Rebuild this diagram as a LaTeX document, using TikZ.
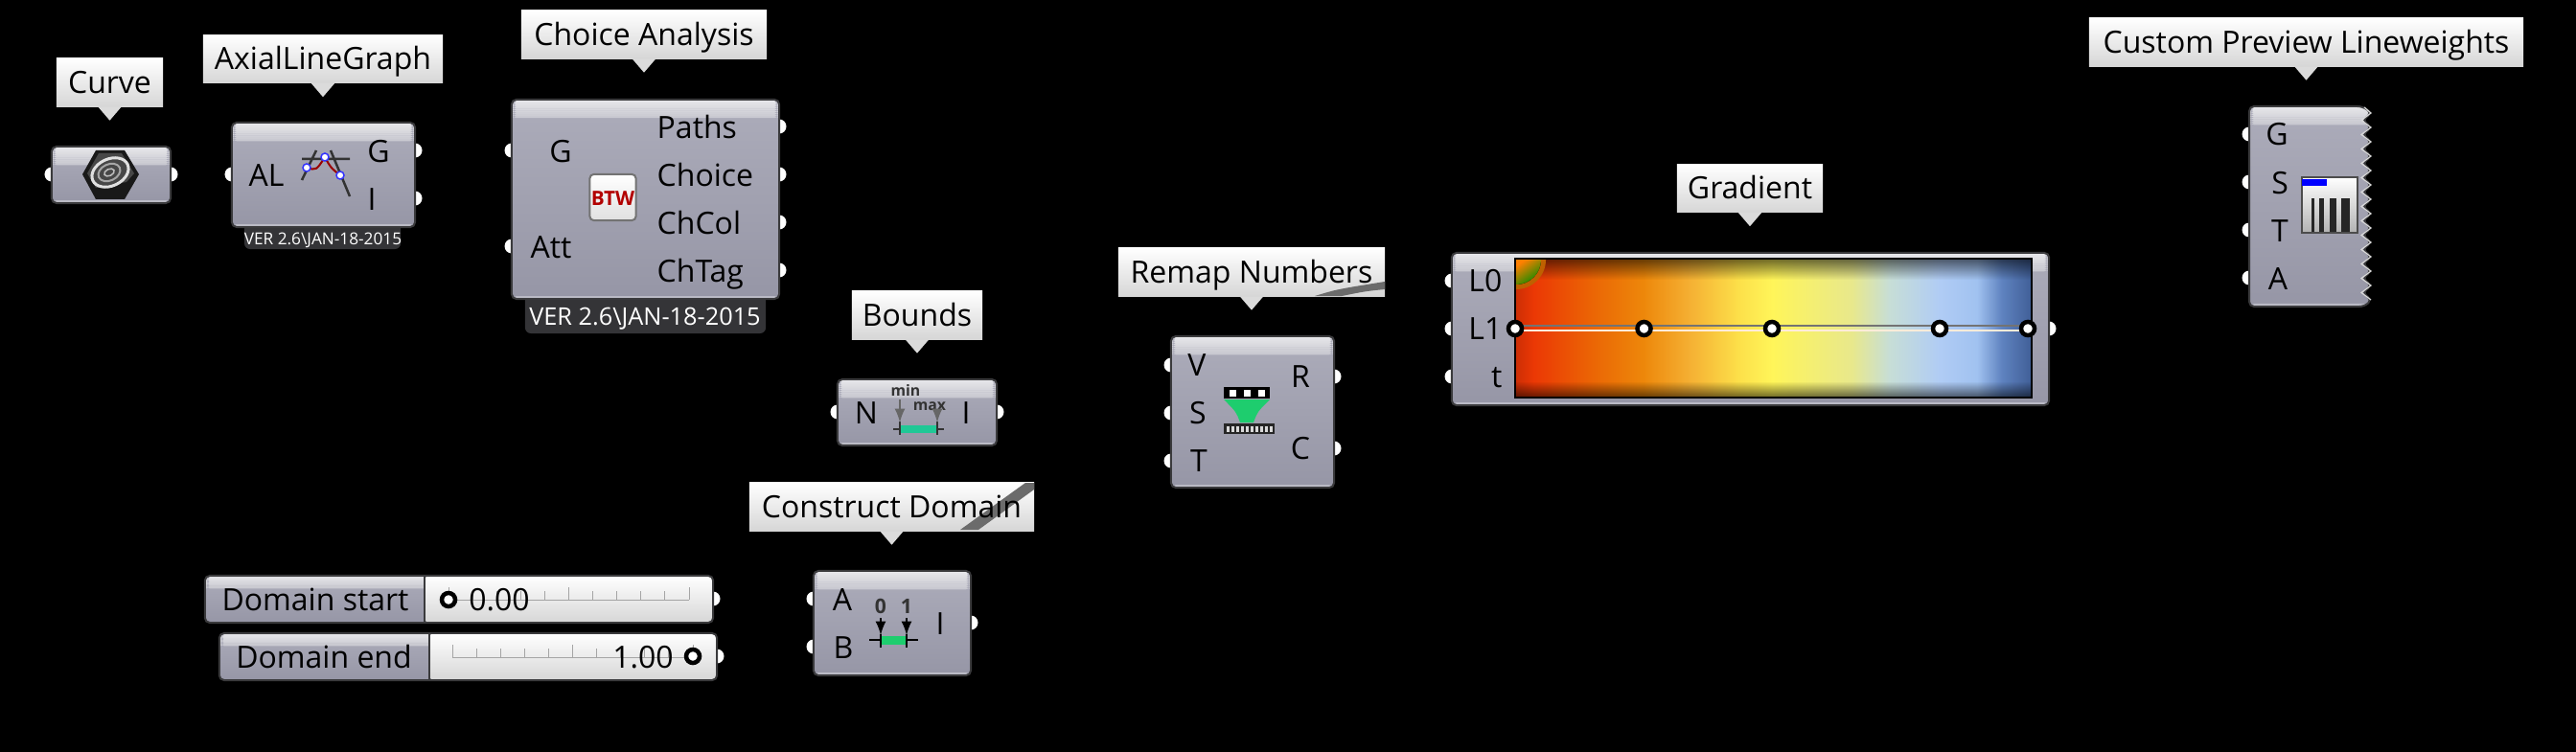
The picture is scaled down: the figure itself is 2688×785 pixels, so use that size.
\documentclass[tikz,border=0pt]{standalone}
\usepackage{fontspec}
\setmainfont{Open Sans}
\usetikzlibrary{shapes.geometric,fadings}
\definecolor{rimgrey}{RGB}{58,58,60}
\definecolor{bodytop}{RGB}{172,172,186}
\definecolor{bodybot}{RGB}{150,150,166}
\definecolor{headtop}{RGB}{232,232,235}
\definecolor{headbot}{RGB}{198,198,206}
\definecolor{badgegrey}{RGB}{52,52,55}
\definecolor{tickgrey}{RGB}{165,165,165}
\definecolor{tealbar}{RGB}{32,200,150}
\definecolor{greenbar}{RGB}{30,205,110}
\pgfdeclarehorizontalshading{gradstops}{100bp}{rgb(0bp)=(.80,.18,.02);rgb(25bp)=(.80,.18,.02);
rgb(26.8bp)=(.92,.22,.02);rgb(32.9bp)=(.92,.41,.02);rgb(37.4bp)=(.93,.53,.04);rgb(41.9bp)=(.96,.69,.20);
rgb(46.7bp)=(.99,.88,.29);rgb(49.9bp)=(1,.96,.35);rgb(57.6bp)=(.91,.91,.55);rgb(61.2bp)=(.78,.87,.84);
rgb(66.1bp)=(.69,.80,.96);rgb(69.7bp)=(.63,.76,.94);rgb(72.1bp)=(.37,.51,.75);rgb(75bp)=(.25,.37,.59);rgb(100bp)=(.25,.37,.59)}
\tikzfading[name=bartop, top color=transparent!45, bottom color=transparent!100]
\tikzfading[name=barbot, top color=transparent!100, bottom color=transparent!45]
\newcommand{\headstrips}[1]{\foreach \k [evaluate=\k as \c using int(\k*10)] in {0,...,9}
  \fill[headbot!\c!headtop] ([yshift=-\k*#1]path picture bounding box.north west) rectangle ([yshift=-\k*#1-#1-0.003cm]path picture bounding box.north east);}
\begin{document}
\begin{tikzpicture}[x=0.01cm,y=-0.01cm,
  capfont/.style={font=\fontsize{9.1}{10}\selectfont, text height=6.5pt, text depth=0pt, inner sep=0pt},
  comp/.style={draw=rimgrey, line width=0.02cm, rounded corners=0.05cm, top color=bodytop, bottom color=bodybot,
    path picture={\headstrips{0.019cm}
      \fill[white, opacity=0.35] ([yshift=0.03cm]path picture bounding box.south west) rectangle (path picture bounding box.south east);}},
  box/.style={comp, inner sep=0pt},
  slider/.style={box, path picture={\headstrips{0.013cm}
      \fill[top color=white, bottom color=black!16] ([xshift=#1]path picture bounding box.north west) rectangle (path picture bounding box.south east);
      \draw[rimgrey, line width=0.02cm] ([xshift=#1]path picture bounding box.north west) -- ([xshift=#1]path picture bounding box.south west);}},
  tag/.style={capfont, minimum height=0.5cm, top color=white, bottom color=black!16},
  tagtip/.style={fill=black!14},
  port/.style={circle, fill=white, inner sep=0pt, minimum size=0.15cm},
  badge/.style={fill=badgegrey, rounded corners=0.06cm, inner sep=0pt},
  vertext/.style={inner sep=0pt, text=white, text depth=0pt},
  knob/.style={circle, draw=black, fill=white, line width=0.045cm, inner sep=0pt, minimum size=0.14cm},
  icontext/.style={font=\fontsize{4.5}{5}\bfseries\selectfont, inner sep=0pt, text=black!80}]
\useasboundingbox (0,0) rectangle (2688,785);
\fill[black] (0,0) rectangle (2688,785);
\foreach \x/\y [count=\i] in {54/182,178/182,242/182,433/157,433/207,534/157,534/257,813/132,813/182,813/232,813/282,
  874/430,1040/430,849/625,849/675,1013/650,744/625,748/685,1222/381,1222/431,1222/481,1392/393,1392/468,
  1515/293,1515/343,1515/393,2138/343,2347/140,2347/190,2347/240,2347/290}
  \node[port] (port\i) at (\x,\y) {};
\node[badge, minimum width=1.63cm, minimum height=0.36cm] (axialver) at (336.5,242) {};
\node[badge, minimum width=2.51cm, minimum height=0.48cm] (choicever) at (673.5,324) {};
\node[box, minimum width=1.24cm, minimum height=0.59cm] (curve) at (116,182.5) {};
\node[box, minimum width=1.91cm, minimum height=1.09cm] (axial) at (337.5,182.5) {};
\node[box, minimum width=2.79cm, minimum height=2.08cm] (choice) at (673.5,208) {};
\node[box, minimum width=1.66cm, minimum height=0.69cm] (bounds) at (957,430.5) {};
\node[box, minimum width=1.64cm, minimum height=1.09cm] (domain) at (931,650.5) {};
\node[box, minimum width=1.70cm, minimum height=1.58cm] (remap) at (1307,430) {};
\node[box, minimum width=6.23cm, minimum height=1.59cm] (gradient) at (1826.5,343.5) {};
\node[slider=2.29cm, minimum width=5.30cm, minimum height=0.49cm] (slidestart) at (479,625.5) {};
\node[slider=2.19cm, minimum width=5.19cm, minimum height=0.49cm] (slideend) at (488.5,685.5) {};
\draw[comp] (2347,111) -- (2465,111) \foreach \k in {0,...,12} { -- (2475,{118+15*\k}) -- (2465,{125.5+15*\k}) } -- (2475,313) -- (2467,320) -- (2347,320) -- cycle;
\draw[white!85!black, line width=0.012cm] (2467,112) \foreach \k in {0,...,12} { -- (2474,{118+15*\k}) -- (2464,{125.5+15*\k}) } -- (2474,313);
\node[tag, minimum width=1.11cm] (curvetag) at (114.5,86) {Curve};
\node[tag, minimum width=2.50cm] (axialtag) at (337,61.5) {AxialLineGraph};
\node[tag, minimum width=2.56cm] (choicetag) at (672,36) {Choice Analysis};
\node[tag, minimum width=1.36cm] (boundstag) at (957,329) {Bounds};
\node[tag, minimum width=2.97cm] (domaintag) at (930.5,529) {};
\node[tag, minimum width=2.78cm] (remaptag) at (1306,284) {};
\node[tag, minimum width=1.52cm] (gradienttag) at (1826,196.5) {Gradient};
\node[tag, minimum width=4.53cm] (previewtag) at (2406.5,44) {Custom Preview Lineweights};
\foreach \n in {curvetag,axialtag,choicetag,boundstag,domaintag,remaptag,gradienttag,previewtag}
  \fill[tagtip] ([xshift=-0.12cm]\n.south) -- ([xshift=0.12cm]\n.south) -- ([yshift=-0.14cm]\n.south) -- cycle;
\fill[black!58] (1002,553) -- (1070,504) -- (1079,504) -- (1079,511) -- (1021,553) -- cycle;
\fill[black!58] (1372,309) .. controls (1395,302) .. (1445,294) -- (1445,302) .. controls (1425,304) .. (1400,309) -- cycle;
\node[capfont] (domaintext) at (930.5,529) {Construct Domain};
\node[capfont] (remaptext) at (1306,284) {Remap Numbers};
\node[vertext, text height=3.5pt, font=\fontsize{4.9}{6}\selectfont] (axialvertext) at (337,249) {VER 2.6\textbackslash JAN-18-2015};
\node[vertext, text height=5.1pt, font=\fontsize{7.2}{8}\selectfont] (choicevertext) at (673,331) {VER 2.6\textbackslash JAN-18-2015};
\foreach \x/\y/\t [count=\i] in {278/183/AL,395/158/G,388/208/I,585/158/G,575/258/Att,904/431/N,1008/431/I,879/626/A,880/676/B,981/651/I,
  1249/381/V,1250/431/S,1251/481/T,1357/393/R,1357/468/C,2376/140/G,2379/191/S,2379/241/T,2377/291/A}
  \node[capfont] (pin\i) at (\x,\y) {\t};
\foreach \y/\t [count=\i] in {133/Paths,183/Choice,233/ChCol,283/ChTag}
  \node[capfont, anchor=west] (out\i) at (685,\y) {\t};
\foreach \y/\t [count=\i] in {293/L0,343/L1,393/t}
  \node[capfont, anchor=east] (level\i) at (1568,\y) {\t};
\node[capfont] (startname) at (329,626) {Domain start};
\node[capfont] (endname) at (338,686) {Domain end};
\foreach \k in {0,...,10} {
  \pgfmathsetmacro{\sx}{468+25.1*\k}
  \pgfmathsetmacro{\ex}{472+25.1*\k}
  \pgfmathsetmacro{\th}{mod(\k,5)==0 ? 13 : 9}
  \draw[tickgrey, line width=0.01cm] (\sx,626) -- (\sx,626-\th);
  \draw[tickgrey, line width=0.01cm] (\ex,686) -- (\ex,686-\th);
}
\draw[tickgrey, line width=0.01cm] (468,626) -- (719,626);
\draw[tickgrey, line width=0.01cm] (472,686) -- (723,686);
\node[capfont] (startval) at (521,626) {0.00};
\node[capfont] (endval) at (671,686) {1.00};
\node[knob] (startknob) at (468,626) {};
\node[knob] (endknob) at (723,685) {};
% curve icon
\fill[black!90] (86,182) -- (100,157) -- (130,157) -- (145,182) -- (130,208) -- (100,208) -- cycle;
\fill[black!72] (91,181) -- (103,160) -- (127,160) -- (140,181) -- (132,190) -- (100,196) -- cycle;
\draw[black!12, line width=0.03cm, rotate around={25:(115,180)}] (115,180) ellipse (0.2cm and 0.14cm);
\draw[black!35, line width=0.02cm, rotate around={25:(114,180)}] (114,180) ellipse (0.12cm and 0.085cm);
\draw[black!25, line width=0.015cm, rotate around={25:(114,180)}] (114,180) ellipse (0.055cm and 0.035cm);
% axial icon
\draw[black!80, line width=0.025cm] (315,166) -- (365,166) (315,188) -- (330,157) (345,157) -- (365,205);
\draw[red!60!black, line width=0.02cm] (320,175) .. controls (330,178) .. (339,164) .. controls (345,175) .. (355,183);
\foreach \x/\y [count=\i] in {320/175,339/164,355/183}
  \draw[blue!80, fill=white, line width=0.015cm] (\x,\y) circle (0.04cm);
% btw icon
\node[draw=black!55, line width=0.02cm, rounded corners=0.04cm, top color=white, bottom color=black!12, minimum width=0.48cm, minimum height=0.48cm, inner sep=0pt] (btwicon) at (639.5,206) {};
\node[inner sep=0pt, text=red!70!black, font=\fontsize{5.9}{6}\bfseries\selectfont] (btwtext) at (639.5,207) {BTW};
% bounds icon
\node[icontext] (mintext) at (945,407) {min};
\node[icontext] (maxtext) at (970,424) {max};
\fill[tealbar] (940,444) rectangle (977,452);
\draw[black!80, line width=0.015cm] (932,448) -- (939,448) (978,448) -- (985,448) (939,440) -- (939,454) (978,440) -- (978,454);
\draw[black!60, line width=0.015cm, -latex] (939,417) -- (939,441);
\draw[black!60, line width=0.015cm, -latex] (978,430) -- (978,441);
% domain icon
\node[icontext, font=\fontsize{6}{7}\bfseries\selectfont] (zerotext) at (919,633) {0};
\node[icontext, font=\fontsize{6}{7}\bfseries\selectfont] (onetext) at (946,633) {1};
\fill[greenbar] (920,664) rectangle (945,673);
\draw[black, line width=0.015cm] (907,668) -- (919,668) (946,668) -- (958,668) (919,662) -- (919,676) (946,662) -- (946,676);
\draw[black, line width=0.015cm, -latex] (919,645) -- (919,663);
\draw[black, line width=0.015cm, -latex] (946,645) -- (946,663);
% remap icon
\fill[black] (1277,404) rectangle (1325,416);
\foreach \x in {1283,1298,1313}
  \fill[white] (\x,407) rectangle (\x+7,414);
\fill[greenbar] (1277,417) -- (1325,417) .. controls (1312,430) .. (1308,441) -- (1294,441) .. controls (1290,430) .. cycle;
\fill[black!85] (1277,442) rectangle (1330,453);
\foreach \k in {0,...,9}
  \fill[white!85!black] (1280+5*\k,445) rectangle (1283+5*\k,451);
% gradient bar
\node[shade, shading=gradstops, draw=black, line width=0.015cm, minimum width=5.39cm, minimum height=1.45cm, inner sep=0pt] (gradbar) at (1850.5,342.5) {};
\fill[black, path fading=bartop] (1582,271) rectangle (2119,292);
\fill[black, path fading=barbot] (1582,398) rectangle (2119,414);
\begin{scope}
\clip (1582,271) rectangle (1620,305);
\fill[orange!75!black] (1582,271) circle (0.31cm);
\clip (1582,271) circle (0.26cm);
\fill[top color=orange, middle color=yellow!85!green, bottom color=green!55!black, shading angle=35] (1582,271) rectangle (1608,297);
\end{scope}
\draw[black!55, line width=0.015cm] (1582,340) -- (2119,340);
\draw[white!85!orange, line width=0.015cm] (1582,345) -- (2119,345);
\foreach \x/\n in {1581/a,1715.5/b,1849/c,2024/d,2116/e}
  \node[knob] (stop\n) at (\x,343) {};
% preview icon
\node[draw=black!70, line width=0.015cm, top color=white, bottom color=black!30, minimum width=0.58cm, minimum height=0.58cm, inner sep=0pt] (previewicon) at (2431,214) {};
\fill[blue] (2402,187) rectangle (2428,194);
\foreach \x/\w in {2412/3,2420/5,2431/7,2443/9}
  \fill[black!85] (\x,207) rectangle (\x+\w,242);
\end{tikzpicture}
\end{document}
